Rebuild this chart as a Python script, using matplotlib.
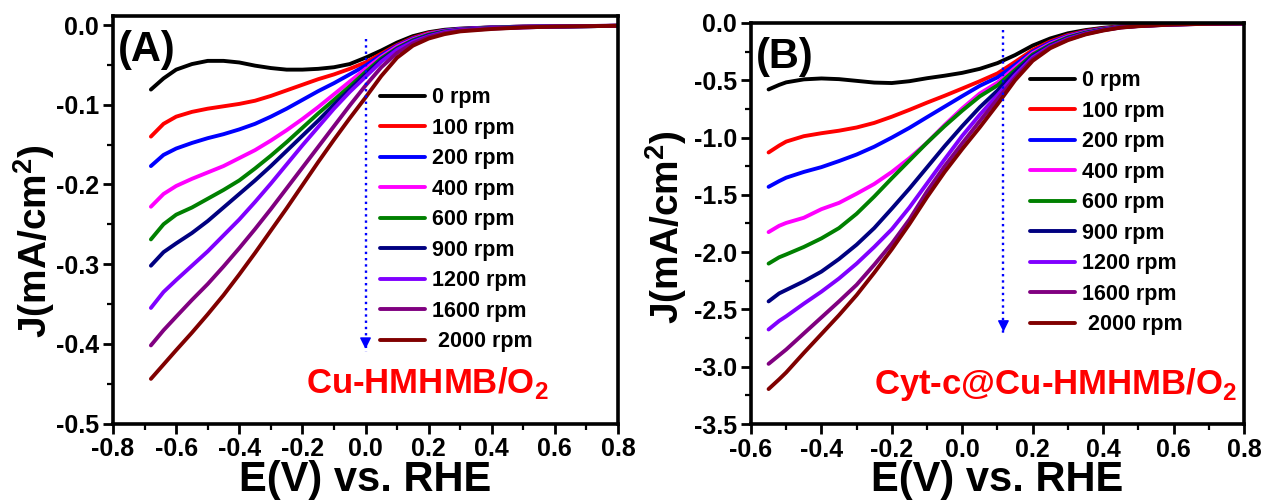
import numpy as np
import matplotlib.pyplot as plt
from matplotlib.ticker import MultipleLocator, FormatStrFormatter

plt.rcParams['font.family'] = ['Liberation Sans', 'DejaVu Sans']
plt.rcParams['font.weight'] = 'bold'
plt.rcParams['axes.labelweight'] = 'bold'
plt.rcParams['axes.unicode_minus'] = False
plt.rcParams['mathtext.fontset'] = 'custom'
plt.rcParams['mathtext.rm'] = 'Liberation Sans:bold'
plt.rcParams['mathtext.bf'] = 'Liberation Sans:bold'

# legend labels and line colours (same for both panels)
rpm_labels = ['0 rpm', '100 rpm', '200 rpm', '400 rpm', '600 rpm',
              '900 rpm', '1200 rpm', '1600 rpm', ' 2000 rpm']
colors = ['#000000', '#ff0000', '#0000ff', '#ff00ff', '#008000',
          '#000080', '#8000ff', '#800080', '#800000']

# ---- panel A : Cu-HMHMB / O2 ----
E_a = [-0.68, -0.64, -0.6, -0.55, -0.5, -0.45, -0.4, -0.35, -0.3, -0.25, -0.2,
       -0.15, -0.1, -0.05, 0.0, 0.05, 0.1, 0.15, 0.2, 0.25, 0.3, 0.4, 0.5, 0.6, 0.8]
J_a_0 = [-0.081, -0.067, -0.056, -0.049, -0.045, -0.045, -0.047, -0.051, -0.054, -0.056, -0.056,
         -0.055, -0.053, -0.049, -0.041, -0.032, -0.022, -0.014, -0.009, -0.006, -0.0045, -0.003, -0.002, -0.0015, -0.001]
J_a_100 = [-0.140, -0.124, -0.115, -0.109, -0.105, -0.102, -0.099, -0.095, -0.089, -0.082, -0.075,
           -0.068, -0.062, -0.055, -0.047, -0.036, -0.025, -0.016, -0.010, -0.007, -0.005, -0.003, -0.002, -0.0015, -0.001]
J_a_200 = [-0.177, -0.163, -0.155, -0.148, -0.142, -0.137, -0.131, -0.124, -0.115, -0.105, -0.094,
           -0.083, -0.073, -0.062, -0.051, -0.038, -0.026, -0.017, -0.011, -0.007, -0.005, -0.003, -0.002, -0.0015, -0.001]
J_a_400 = [-0.228, -0.212, -0.202, -0.193, -0.185, -0.177, -0.167, -0.157, -0.145, -0.132, -0.118,
           -0.103, -0.087, -0.071, -0.055, -0.040, -0.027, -0.018, -0.011, -0.0075, -0.0055, -0.0035, -0.0025, -0.0015, -0.001]
J_a_600 = [-0.269, -0.250, -0.238, -0.229, -0.218, -0.207, -0.195, -0.180, -0.164, -0.147, -0.129,
           -0.111, -0.094, -0.077, -0.059, -0.042, -0.029, -0.019, -0.012, -0.008, -0.006, -0.0035, -0.0025, -0.002, -0.001]
J_a_900 = [-0.302, -0.285, -0.274, -0.261, -0.246, -0.229, -0.212, -0.195, -0.177, -0.158, -0.139,
           -0.120, -0.100, -0.081, -0.062, -0.044, -0.030, -0.020, -0.013, -0.0085, -0.006, -0.004, -0.0025, -0.002, -0.001]
J_a_1200 = [-0.355, -0.335, -0.320, -0.302, -0.284, -0.264, -0.244, -0.222, -0.199, -0.175, -0.151,
            -0.128, -0.105, -0.084, -0.065, -0.046, -0.031, -0.021, -0.014, -0.009, -0.0065, -0.004, -0.003, -0.002, -0.001]
J_a_1600 = [-0.402, -0.383, -0.366, -0.345, -0.325, -0.303, -0.280, -0.256, -0.231, -0.205, -0.179,
            -0.153, -0.127, -0.101, -0.076, -0.053, -0.035, -0.023, -0.015, -0.010, -0.007, -0.0045, -0.003, -0.002, -0.001]
J_a_2000 = [-0.444, -0.426, -0.408, -0.386, -0.363, -0.339, -0.313, -0.286, -0.258, -0.230, -0.201,
            -0.172, -0.144, -0.117, -0.091, -0.064, -0.041, -0.026, -0.017, -0.0115, -0.008, -0.005, -0.003, -0.002, -0.001]

# ---- panel B : Cyt-c@Cu-HMHMB / O2 ----
E_b = [-0.55, -0.52, -0.5, -0.45, -0.4, -0.35, -0.3, -0.25, -0.2, -0.15, -0.1, -0.05, 0.0,
       0.05, 0.1, 0.15, 0.2, 0.25, 0.3, 0.35, 0.4, 0.45, 0.5, 0.6, 0.7, 0.8]
J_b_0 = [-0.580, -0.540, -0.518, -0.492, -0.484, -0.490, -0.505, -0.520, -0.524, -0.508, -0.482, -0.460, -0.435,
         -0.400, -0.350, -0.280, -0.197, -0.135, -0.090, -0.062, -0.042, -0.029, -0.020, -0.010, -0.005, -0.003]
J_b_100 = [-1.130, -1.070, -1.035, -0.988, -0.962, -0.940, -0.912, -0.872, -0.818, -0.758, -0.695, -0.635, -0.572,
           -0.508, -0.440, -0.340, -0.235, -0.160, -0.105, -0.070, -0.047, -0.031, -0.021, -0.011, -0.005, -0.003]
J_b_200 = [-1.430, -1.380, -1.350, -1.300, -1.258, -1.205, -1.148, -1.080, -1.000, -0.915, -0.822, -0.730, -0.638,
           -0.548, -0.475, -0.365, -0.250, -0.170, -0.112, -0.075, -0.050, -0.033, -0.022, -0.011, -0.006, -0.003]
J_b_400 = [-1.825, -1.770, -1.745, -1.700, -1.625, -1.570, -1.490, -1.405, -1.300, -1.180, -1.045, -0.890, -0.745,
           -0.615, -0.520, -0.390, -0.262, -0.180, -0.118, -0.079, -0.053, -0.034, -0.023, -0.012, -0.006, -0.003]
J_b_600 = [-2.100, -2.045, -2.020, -1.955, -1.880, -1.790, -1.665, -1.515, -1.355, -1.200, -1.045, -0.900, -0.765,
           -0.640, -0.545, -0.410, -0.275, -0.190, -0.125, -0.083, -0.055, -0.035, -0.024, -0.012, -0.006, -0.003]
J_b_900 = [-2.430, -2.360, -2.330, -2.255, -2.170, -2.060, -1.935, -1.790, -1.620, -1.445, -1.260, -1.075, -0.900,
           -0.735, -0.590, -0.430, -0.288, -0.198, -0.132, -0.088, -0.058, -0.036, -0.025, -0.012, -0.007, -0.003]
J_b_1200 = [-2.675, -2.600, -2.560, -2.450, -2.345, -2.230, -2.100, -1.955, -1.800, -1.610, -1.400, -1.190, -0.985,
            -0.800, -0.630, -0.455, -0.300, -0.205, -0.138, -0.092, -0.061, -0.038, -0.026, -0.013, -0.007, -0.003]
J_b_1600 = [-2.975, -2.900, -2.850, -2.710, -2.570, -2.430, -2.285, -2.110, -1.925, -1.715, -1.470, -1.250, -1.050,
            -0.855, -0.665, -0.480, -0.315, -0.212, -0.144, -0.096, -0.063, -0.039, -0.027, -0.013, -0.007, -0.003]
J_b_2000 = [-3.195, -3.110, -3.050, -2.880, -2.715, -2.550, -2.375, -2.180, -1.975, -1.755, -1.520, -1.300, -1.100,
            -0.910, -0.710, -0.500, -0.330, -0.220, -0.150, -0.100, -0.066, -0.040, -0.028, -0.013, -0.007, -0.003]

# dotted arrow (E, J start, J end)
arrow_a = (0.0, -0.018, -0.41)
arrow_b = (0.117, -0.06, -2.72)

fig = plt.figure(figsize=(12.63, 5.0), dpi=100)
ax_a = fig.add_axes([0.0895, 0.153, 0.3998, 0.815])
ax_b = fig.add_axes([0.5946, 0.152, 0.3903, 0.802])


def draw_panel(ax, E, curves, xlim, ylim, xmaj, xmin, ymaj, ymin, arrow, tag, name,
               leg_xy, name_xy, ylab_xy):
    for J, c, lab in zip(curves, colors, rpm_labels):
        ax.plot(E, J, color=c, lw=2.8, label=lab, solid_capstyle='round')
    x0, y0, y1 = arrow
    ax.plot([x0, x0], [y0, y1], ls=':', color='#0000ff', lw=1.7)
    ax.annotate('', xy=(x0, y1), xytext=(x0, y1 + (y1 - y0) * -0.04),
                arrowprops=dict(arrowstyle='-|>', color='#0000ff', lw=1, mutation_scale=17))
    ax.set_xlim(*xlim)
    ax.set_ylim(*ylim)
    ax.xaxis.set_major_locator(MultipleLocator(xmaj))
    ax.xaxis.set_minor_locator(MultipleLocator(xmin))
    ax.yaxis.set_major_locator(MultipleLocator(ymaj))
    ax.yaxis.set_minor_locator(MultipleLocator(ymin))
    ax.xaxis.set_major_formatter(FormatStrFormatter('%.1f'))
    ax.yaxis.set_major_formatter(FormatStrFormatter('%.1f'))
    ax.tick_params(which='major', direction='out', length=7, width=2, labelsize=18, pad=3)
    ax.tick_params(which='minor', direction='out', length=4, width=1.6)
    for s in ax.spines.values():
        s.set_linewidth(2.6)
    ax.set_xlabel('E(V) vs. RHE', fontsize=30, fontweight='bold', labelpad=-1)
    ax.set_ylabel('J(mA/cm$^2$)', fontsize=28, fontweight='bold')
    ax.yaxis.set_label_coords(*ylab_xy)
    ax.text(0.01, 0.965, tag, transform=ax.transAxes, fontsize=30, fontweight='bold', va='top', ha='left')
    ax.text(name_xy[0], name_xy[1], name, transform=ax.transAxes, fontsize=25, fontweight='bold',
            color='#ff0000', ha='left', va='baseline')
    ax.legend(loc='upper left', bbox_to_anchor=leg_xy, frameon=False, fontsize=15.5,
              handlelength=2.1, handletextpad=0.3, labelspacing=0.44, borderpad=0,
              borderaxespad=0)


draw_panel(ax_a, E_a, [J_a_0, J_a_100, J_a_200, J_a_400, J_a_600, J_a_900, J_a_1200, J_a_1600, J_a_2000],
           (-0.8, 0.8), (-0.5, 0.0113), 0.2, 0.1, 0.1, 0.05, arrow_a, '(A)', 'Cu-HMHMB/O$_2$',
           (0.529, 0.825), (0.382, 0.075), (-0.11, 0.448))
draw_panel(ax_b, E_b, [J_b_0, J_b_100, J_b_200, J_b_400, J_b_600, J_b_900, J_b_1200, J_b_1600, J_b_2000],
           (-0.6, 0.8), (-3.5, 0.0), 0.2, 0.1, 0.5, 0.25, arrow_b, '(B)', 'Cyt-c@Cu-HMHMB/O$_2$',
           (0.566, 0.882), (0.25, 0.075), (-0.126, 0.49))

fig.savefig('out.png', dpi=100)
